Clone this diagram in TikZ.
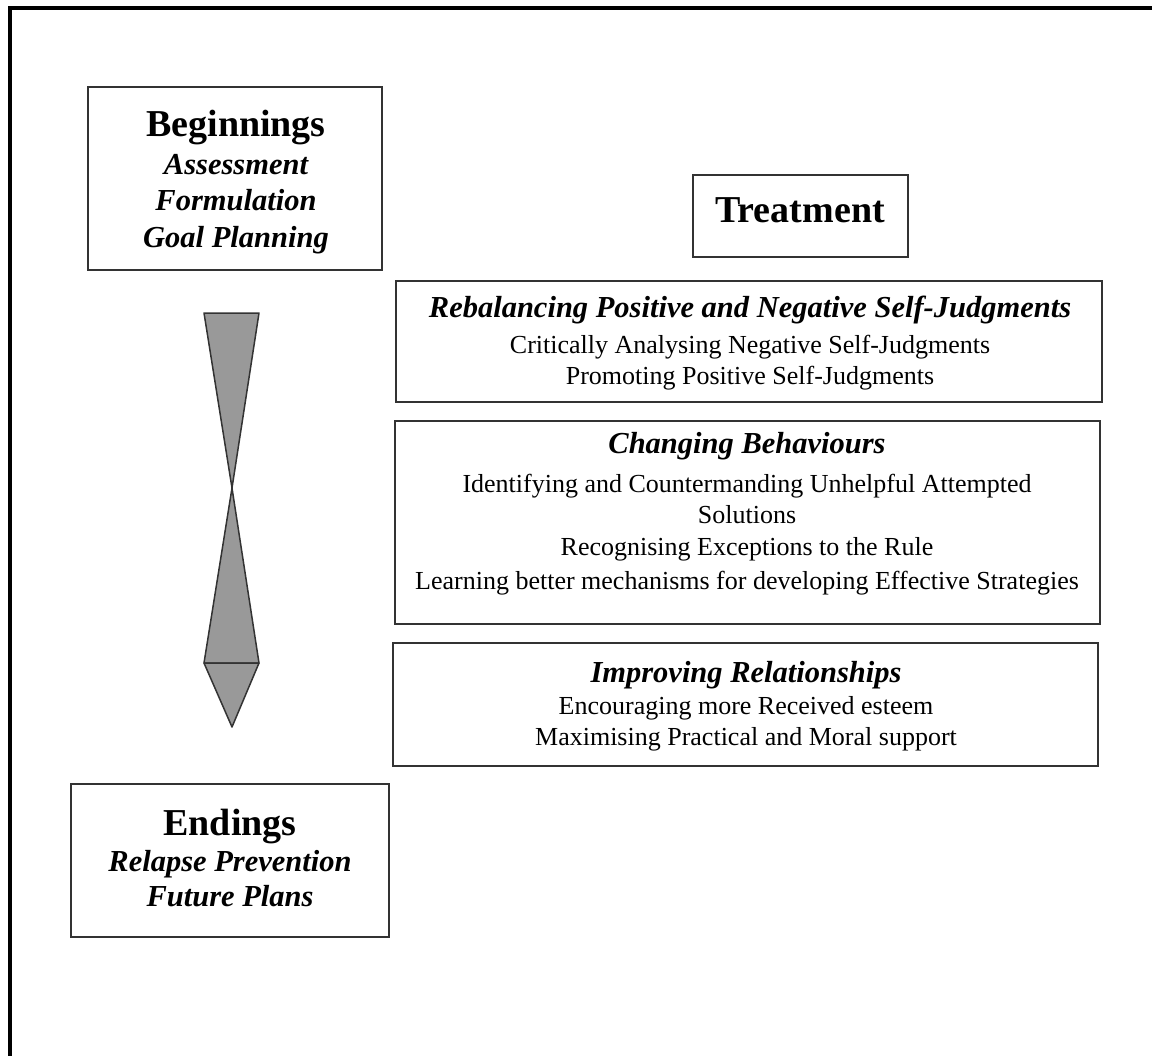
\documentclass[tikz,border=0pt]{standalone}
\usepackage{fontspec}
\setmainfont{Liberation Serif}
\begin{document}
\begin{tikzpicture}[x=0.5pt,y=-0.5pt,
  box/.style={draw=black!80, line width=0.75pt, inner sep=0pt},
  head/.style={anchor=base, inner sep=0pt, font=\fontsize{19}{22}\selectfont\bfseries},
  sub/.style={anchor=base, inner sep=0pt, font=\fontsize{15.25}{18}\selectfont\bfseries\itshape},
  plain/.style={anchor=base, inner sep=0pt, font=\fontsize{13}{15}\selectfont},
  funnel/.style={fill=black!40, draw=black!80, line width=0.75pt, line join=round}]

\useasboundingbox (0,0) rectangle (1152,1056);

% outer frame
\draw[line width=2pt, line join=miter] (1152,8) -- (10,8) -- (10,1056);

% phase boxes
\node[box, minimum width=147pt, minimum height=91.5pt] (begbox) at (235,178.5) {};
\node[box, minimum width=107.5pt, minimum height=41pt] (treatbox) at (800.5,216) {};
\node[box, minimum width=353pt, minimum height=60.5pt] (rebalbox) at (749,341.5) {};
\node[box, minimum width=352.5pt, minimum height=101.5pt] (changebox) at (747.5,522.5) {};
\node[box, minimum width=352.5pt, minimum height=61.5pt] (relbox) at (745.5,704.5) {};
\node[box, minimum width=159pt, minimum height=76.5pt] (endbox) at (230,860.5) {};

% Beginnings
\node[head] (beg0) at (236,136) {Beginnings};
\node[sub] (beg1) at (236,174) {Assessment};
\node[sub] (beg2) at (236,210) {Formulation};
\node[sub] (beg3) at (236,247) {Goal Planning};

% Treatment
\node[head] (treat0) at (800,222) {Treatment};

% Rebalancing
\node[sub] (reb0) at (750,317) {Rebalancing Positive and Negative Self-Judgments};
\node[plain] (reb1) at (750,353) {Critically Analysing Negative Self-Judgments};
\node[plain] (reb2) at (750,384) {Promoting Positive Self-Judgments};

% Changing behaviours
\node[sub] (chg0) at (747,453) {Changing Behaviours};
\node[plain] (chg1) at (747,492) {Identifying and Countermanding Unhelpful Attempted};
\node[plain] (chg2) at (747,523) {Solutions};
\node[plain] (chg3) at (747,555) {Recognising Exceptions to the Rule};
\node[plain] (chg4) at (747,589) {Learning better mechanisms for developing Effective Strategies};

% Relationships
\node[sub] (rel0) at (746,682) {Improving Relationships};
\node[plain] (rel1) at (746,714) {Encouraging more Received esteem};
\node[plain] (rel2) at (746,745) {Maximising Practical and Moral support};

% Endings
\node[head] (end0) at (230,835) {Endings};
\node[sub] (end1) at (230,871) {Relapse Prevention};
\node[sub] (end2) at (230,906) {Future Plans};

% hourglass arrow
\coordinate (tl) at (204,313);
\coordinate (tr) at (259,313);
\coordinate (mid) at (232,488);
\coordinate (bl) at (204,663);
\coordinate (br) at (259,663);
\coordinate (tip) at (232,727);
\draw[funnel] (tl) -- (tr) -- (mid) -- cycle;
\draw[funnel] (mid) -- (br) -- (bl) -- cycle;
\draw[funnel] (bl) -- (br) -- (tip) -- cycle;
\end{tikzpicture}
\end{document}
